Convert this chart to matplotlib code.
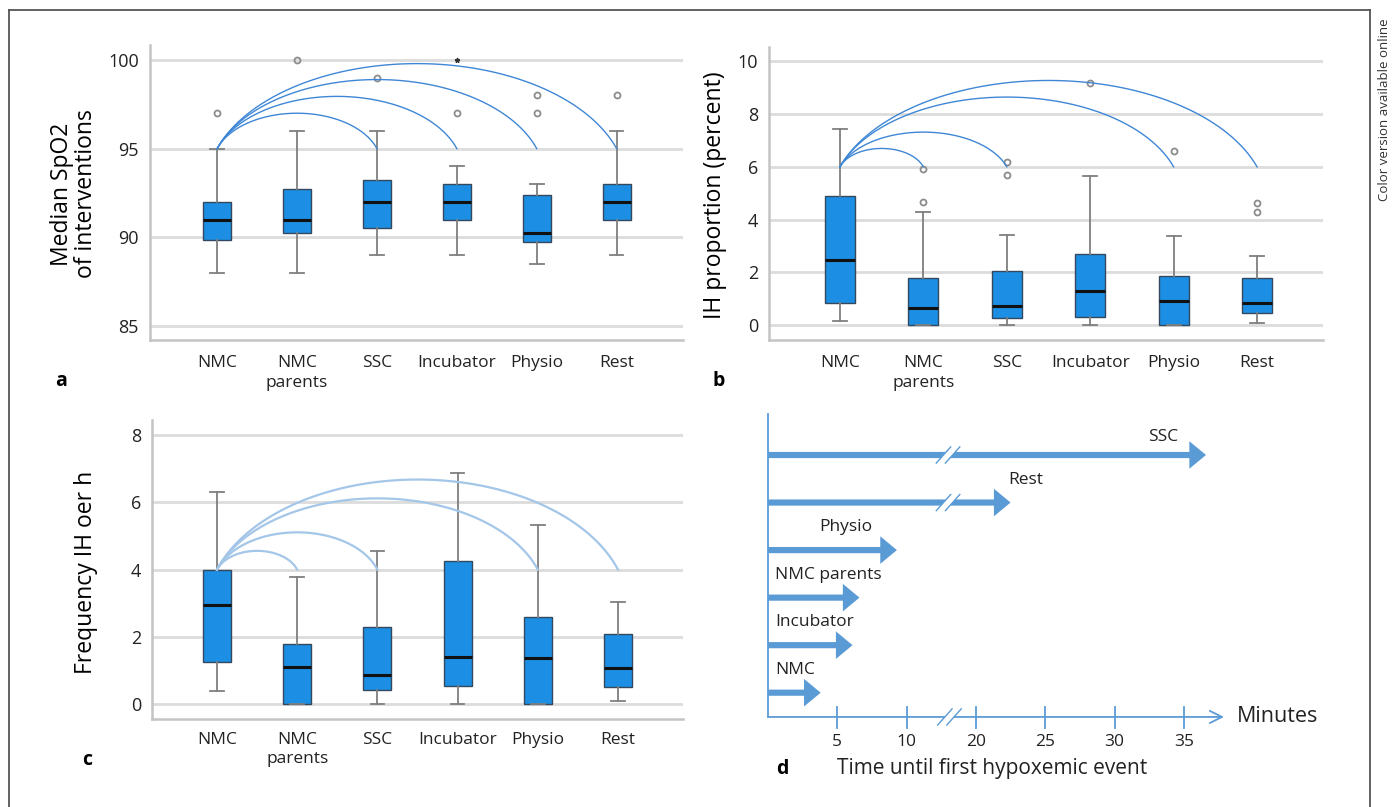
import numpy as np
import matplotlib
matplotlib.use('Agg')
import matplotlib.pyplot as plt
from matplotlib.patches import FancyArrow, Polygon
from matplotlib.lines import Line2D

plt.rcParams['font.family'] = ['Open Sans', 'DejaVu Sans']

W, H = 1398, 807

categories = ['NMC', 'NMC\nparents', 'SSC', 'Incubator', 'Physio', 'Rest']

# panel a: median SpO2 of interventions
a_whislo = [88, 88, 89, 89, 88.5, 89]
a_q1 = [89.85, 90.25, 90.5, 91, 89.75, 91]
a_med = [91, 91, 92, 92, 90.25, 92]
a_q3 = [92, 92.75, 93.25, 93, 92.4, 93]
a_whishi = [95, 96, 96, 94, 93, 96]
a_fliers = [[97], [100], [99], [97], [97, 98], [98]]
a_extreme = [None, None, None, 100, None, None]
a_arc_base = 95
a_arc_to = [2, 3, 4, 5]
a_arc_peak = [97.0, 97.95, 98.9, 99.8]

# panel b: IH proportion (percent)
b_whislo = [0.14, 0, 0, 0, 0, 0.09]
b_q1 = [0.84, 0, 0.25, 0.29, 0, 0.44]
b_med = [2.47, 0.66, 0.73, 1.30, 0.90, 0.85]
b_q3 = [4.91, 1.77, 2.04, 2.70, 1.87, 1.80]
b_whishi = [7.43, 4.30, 3.43, 5.67, 3.38, 2.62]
b_fliers = [[], [4.66, 5.92], [5.68, 6.19], [9.18], [6.61], [4.28, 4.63]]
b_arc_base = 6
b_arc_to = [1, 2, 4, 5]
b_arc_peak = [6.70, 7.32, 8.65, 9.28]

# panel c: frequency IH per h
c_whislo = [0.38, 0, 0, 0, 0, 0.11]
c_q1 = [1.25, 0, 0.43, 0.55, 0, 0.52]
c_med = [2.95, 1.10, 0.87, 1.40, 1.37, 1.09]
c_q3 = [3.98, 1.78, 2.30, 4.26, 2.58, 2.08]
c_whishi = [6.30, 3.79, 4.56, 6.86, 5.32, 3.04]
c_fliers = [[], [], [], [], [], []]
c_arc_base = 4
c_arc_to = [1, 2, 4, 5]
c_arc_peak = [4.56, 5.11, 6.12, 6.68]

# panel d: time until first hypoxemic event (minutes)
d_groups = ['NMC', 'Incubator', 'NMC parents', 'Physio', 'Rest', 'SSC']
d_minutes = [3.8, 6.1, 6.6, 9.3, 22.5, 36.6]
d_ticks = [5, 10, 20, 25, 30, 35]

BOX = '#1c8ee3'
ARROW = '#5b9bd5'

fig = plt.figure(figsize=(W / 100, H / 100), dpi=100)


def px_axes(left, top, right, bottom):
    return fig.add_axes([left / W, 1 - bottom / H, (right - left) / W, (bottom - top) / H])


def arc(ax, x0, x1, base, peak, color, lw, c=0.45):
    # piece of an ellipse standing on the base line
    h = peak - base
    xm, half = (x0 + x1) / 2, (x1 - x0) / 2
    b = h * (1 + c)
    s = c / (1 + c)
    a = half / np.sqrt(1 - s ** 2)
    th = np.linspace(np.arcsin(s), np.pi - np.arcsin(s), 200)
    ax.plot(xm + a * np.cos(th), base - c * h + b * np.sin(th), color=color, lw=lw,
            zorder=5, clip_on=False)


def box_panel(ax, whislo, q1, med, q3, whishi, fliers, ylim, yticks, xlim, width, xpad):
    stats = [dict(whislo=whislo[i], q1=q1[i], med=med[i], q3=q3[i], whishi=whishi[i],
                  fliers=fliers[i]) for i in range(len(categories))]
    ax.bxp(stats, positions=range(len(categories)), widths=width, patch_artist=True,
           capwidths=0.17, manage_ticks=False, zorder=3,
           boxprops=dict(facecolor=BOX, edgecolor='#34495e', linewidth=1.0),
           whiskerprops=dict(color='#7f7f7f', linewidth=1.3),
           capprops=dict(color='#7f7f7f', linewidth=1.3),
           medianprops=dict(color='#111111', linewidth=2.2),
           flierprops=dict(marker='o', markersize=4.3, markerfacecolor='none',
                           markeredgecolor='#8c8c8c', markeredgewidth=1.3))
    ax.set_ylim(*ylim)
    ax.set_xlim(*xlim)
    ax.set_yticks(yticks)
    ax.set_xticks(range(len(categories)))
    ax.set_xticklabels(categories, fontsize=12.5, linespacing=1.3)
    ax.tick_params(axis='y', length=0, labelsize=13, pad=8, labelcolor='#222222')
    ax.tick_params(axis='x', length=0, pad=xpad, labelcolor='#222222')
    ax.grid(axis='y', color='#dcdcdc', linewidth=2)
    ax.set_axisbelow(True)
    for sp in ['top', 'right']:
        ax.spines[sp].set_visible(False)
    for sp in ['left', 'bottom']:
        ax.spines[sp].set_color('#c4c4c4')
        ax.spines[sp].set_linewidth(1.8)


# panel a
ax_a = px_axes(150, 45, 683, 340)
box_panel(ax_a, a_whislo, a_q1, a_med, a_q3, a_whishi, a_fliers,
          (84.2, 100.85), [85, 90, 95, 100], (-0.84, 5.83), 0.35, 11)
for i, v in enumerate(a_extreme):
    if v is not None:
        ax_a.plot(i, v, marker='*', ms=3.5, color='#333333', zorder=4)
for x1, pk in zip(a_arc_to, a_arc_peak):
    arc(ax_a, 0, x1, a_arc_base, pk, '#3f87d6', 1.0)

# panel b
ax_b = px_axes(769, 47, 1323, 340)
box_panel(ax_b, b_whislo, b_q1, b_med, b_q3, b_whishi, b_fliers,
          (-0.57, 10.55), [0, 2, 4, 6, 8, 10], (-0.85, 5.79), 0.36, 11)
for x1, pk in zip(b_arc_to, b_arc_peak):
    arc(ax_b, 0, x1, b_arc_base, pk, '#3f87d6', 1.0)

# panel c
ax_c = px_axes(152, 420, 683, 719)
box_panel(ax_c, c_whislo, c_q1, c_med, c_q3, c_whishi, c_fliers,
          (-0.44, 8.45), [0, 2, 4, 6, 8], (-0.81, 5.81), 0.35, 9)
for x1, pk in zip(c_arc_to, c_arc_peak):
    arc(ax_c, 0, x1, c_arc_base, pk, '#a4c6e8', 1.6)

# y labels and panel letters
fig.text(74 / W, 1 - 194 / H, 'Median SpO2\nof interventions', rotation=90,
         ha='center', va='center', fontsize=16.5, linespacing=1.0)
fig.text(715 / W, 1 - 195 / H, 'IH proportion (percent)', rotation=90,
         ha='center', va='center', fontsize=16.5)
fig.text(86 / W, 1 - 572 / H, 'Frequency IH oer h', rotation=90,
         ha='center', va='center', fontsize=16.5)
for lab, x, y in [('a', 55, 381), ('b', 712, 381), ('c', 82, 760), ('d', 776, 769)]:
    fig.text(x / W, 1 - y / H, lab, fontsize=14, fontweight='bold', ha='left', va='center')

# panel d: broken time axis, 1 unit = 1 minute below the break, minus 5 above it
def to_axis(m):
    return m if m < 15 else m - 5


ax_d = px_axes(740, 400, 1370, 807)
ax_d.set_xlim((740 - 768) / 13.86, (1370 - 768) / 13.86)
ax_d.set_ylim(-(807 - 692.7) / 47.54, (692.7 - 400) / 47.54)
ax_d.axis('off')

brk = 13.06
axis_y = -0.51


def break_mark(ax, x, y):
    dx, dy, gap = 0.52, 0.17, 0.66
    ax.add_patch(Polygon([(x - dx, y - dy), (x + dx, y + dy), (x + dx + gap, y + dy),
                          (x - dx + gap, y - dy)], closed=True, facecolor='white',
                         edgecolor='none', zorder=6))
    for off in (0, gap):
        ax.plot([x - dx + off, x + dx + off], [y - dy, y + dy], color=ARROW, lw=1.0, zorder=7)


ax_d.plot([0, 0], [axis_y, 5.86], color=ARROW, lw=1.3, zorder=2)
ax_d.annotate('', xy=(32.9, axis_y), xytext=(0, axis_y),
              arrowprops=dict(arrowstyle='->', color=ARROW, lw=1.3,
                              mutation_scale=22, shrinkA=0, shrinkB=0))
for t in d_ticks:
    u = to_axis(t)
    ax_d.plot([u, u], [axis_y - 0.23, axis_y + 0.2], color=ARROW, lw=1.3)
    ax_d.text(u, axis_y - 0.52, str(t), ha='center', va='center', fontsize=12.5,
              color='#222222')
break_mark(ax_d, brk - 0.3, axis_y)
ax_d.text(33.8, axis_y, 'Minutes', ha='left', va='center', fontsize=15.5, color='#222222')
ax_d.text(5.0, -1.6, 'Time until first hypoxemic event', ha='left', va='center',
          fontsize=15, color='#222222')

label_pos = {'NMC': (0.5, 'left'), 'Incubator': (0.5, 'left'), 'NMC parents': (0.5, 'left'),
             'Physio': (5.6, 'center'), 'Rest': (17.3, 'left'), 'SSC': (29.6, 'right')}
for r, (g, m) in enumerate(zip(d_groups, d_minutes)):
    u = to_axis(m)
    ax_d.add_patch(FancyArrow(0, r, u, 0, width=0.13, head_width=0.58, head_length=1.2,
                              length_includes_head=True, color=ARROW, lw=0, zorder=3))
    if m > 15:
        break_mark(ax_d, brk - 0.4, r)
    lx, ha = label_pos[g]
    ax_d.text(lx, r + (0.38 if g == 'SSC' else 0.48), g, ha=ha, va='center',
              fontsize=12.5, color='#222222')

# outer frame
for xs, ys in [([9, 9], [10, 807]), ([9, 1370], [10, 10]), ([1370, 1370], [10, 807])]:
    fig.add_artist(Line2D([x / W for x in xs], [1 - y / H for y in ys], color='#555555', lw=1.3))
fig.text(1384 / W, 1 - 110 / H, 'Color version available online', rotation=90,
         ha='center', va='center', fontsize=9.5, color='#333333')

fig.savefig('out.png', dpi=100, facecolor='white')
